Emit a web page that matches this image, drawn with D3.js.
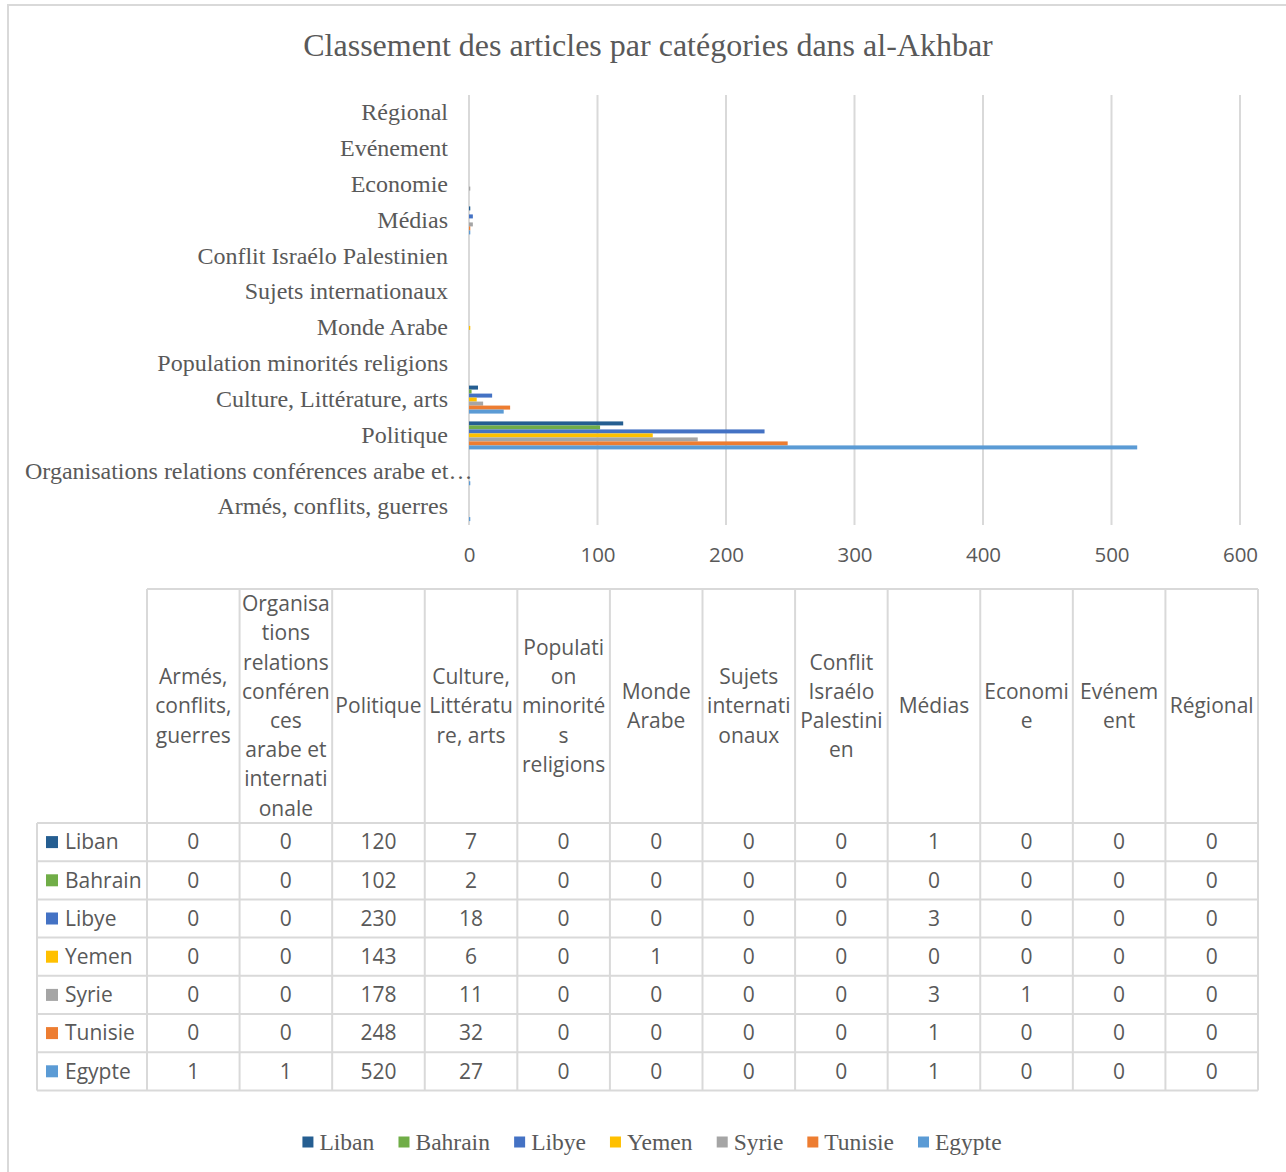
<!DOCTYPE html>
<html>
<head>
<meta charset="utf-8">
<script src="https://cdn.jsdelivr.net/npm/d3@7/dist/d3.min.js"></script>
<style>
  html, body { margin: 0; padding: 0; background: #ffffff; }
  svg { display: block; }
</style>
</head>
<body>
<script>
// Article counts per category and per country (al-Akhbar)
const categories = [
  "Armés, conflits, guerres",
  "Organisations relations conférences arabe et internationale",
  "Politique",
  "Culture, Littérature, arts",
  "Population minorités religions",
  "Monde Arabe",
  "Sujets internationaux",
  "Conflit Israélo Palestinien",
  "Médias",
  "Economie",
  "Evénement",
  "Régional"
];

// Column headers of the data table, broken the way the cells wrap them
const headerLines = [
  ["Armés,", "conflits,", "guerres"],
  ["Organisa", "tions", "relations", "conféren", "ces", "arabe et", "internati", "onale"],
  ["Politique"],
  ["Culture,", "Littératu", "re, arts"],
  ["Populati", "on", "minorité", "s", "religions"],
  ["Monde", "Arabe"],
  ["Sujets", "internati", "onaux"],
  ["Conflit", "Israélo", "Palestini", "en"],
  ["Médias"],
  ["Economi", "e"],
  ["Evénem", "ent"],
  ["Régional"]
];

const seriesNames = ["Liban", "Bahrain", "Libye", "Yemen", "Syrie", "Tunisie", "Egypte"];
const seriesColors = ["#255e91", "#70ad47", "#4472c4", "#ffc000", "#a5a5a5", "#ed7d31", "#5b9bd5"];

const liban   = [0, 0, 120, 7, 0, 0, 0, 0, 1, 0, 0, 0];
const bahrain = [0, 0, 102, 2, 0, 0, 0, 0, 0, 0, 0, 0];
const libye   = [0, 0, 230, 18, 0, 0, 0, 0, 3, 0, 0, 0];
const yemen   = [0, 0, 143, 6, 0, 1, 0, 0, 0, 0, 0, 0];
const syrie   = [0, 0, 178, 11, 0, 0, 0, 0, 3, 1, 0, 0];
const tunisie = [0, 0, 248, 32, 0, 0, 0, 0, 1, 0, 0, 0];
const egypte  = [1, 1, 520, 27, 0, 0, 0, 0, 1, 0, 0, 0];

const xTicks = [0, 100, 200, 300, 400, 500, 600];

const seriesValues = [liban, bahrain, libye, yemen, syrie, tunisie, egypte];
const series = seriesNames.map((name, i) => ({ name, color: seriesColors[i], values: seriesValues[i] }));

const W = 1286, H = 1172;
const SERIF = "'Liberation Serif', 'Times New Roman', serif";
const SANS = "'Open Sans', 'Noto Sans', sans-serif";
const TEXT = "#595959";
const GRID = "#d9d9d9";

const svg = d3.select("body").append("svg")
  .attr("width", W).attr("height", H);

svg.append("rect").attr("width", W).attr("height", H).attr("fill", "#fff");

// chart frame (runs past the right and bottom edge of the page)
svg.append("rect")
  .attr("x", 8).attr("y", 5)
  .attr("width", W + 20).attr("height", H + 20)
  .attr("fill", "none").attr("stroke", GRID).attr("stroke-width", 2);

// title
svg.append("text")
  .attr("x", 648).attr("y", 56)
  .attr("text-anchor", "middle")
  .attr("font-family", SERIF).attr("font-size", 32)
  .attr("fill", TEXT)
  .text("Classement des articles par catégories dans al-Akhbar");

// ---- bar chart ----
const x = d3.scaleLinear().domain([0, 600]).range([469, 1240]);
const y = d3.scaleBand().domain(categories.slice().reverse()).range([95, 525]).padding(0);
const ySub = d3.scaleBand().domain(seriesNames).range([0, y.bandwidth()]).paddingInner(0).paddingOuter(0.98);

const plot = svg.append("g");

// vertical gridlines
plot.append("g")
  .selectAll("line").data(xTicks).join("line")
  .attr("x1", d => x(d)).attr("x2", d => x(d))
  .attr("y1", 95).attr("y2", 525)
  .attr("stroke", GRID).attr("stroke-width", 2);

// x axis labels
const xAxis = d3.axisBottom(x).tickValues(xTicks).tickSize(0).tickPadding(0);
const gx = plot.append("g").attr("transform", "translate(0,562)").call(xAxis);
gx.select(".domain").remove();
gx.selectAll("text")
  .attr("font-family", SANS).attr("font-size", 20.5)
  .attr("fill", TEXT).attr("dy", "0");

// category labels, shortened with an ellipsis when they do not fit
const labelRight = 448, labelLeft = 25;
const gy = plot.append("g");
gy.selectAll("text").data(categories).join("text")
  .attr("y", d => y(d) + y.bandwidth() / 2 - 1)
  .attr("dy", "0.35em")
  .attr("font-family", SERIF).attr("font-size", 24)
  .attr("fill", TEXT)
  .each(function (d) {
    const t = d3.select(this);
    t.text(d);
    const maxW = 480 - labelLeft;
    if (this.getComputedTextLength() > labelRight - labelLeft) {
      let s = d;
      while (s.length > 1) {
        s = s.slice(0, -1);
        t.text(s.trimEnd() + "…");
        if (this.getComputedTextLength() <= maxW) break;
      }
      t.attr("x", labelLeft).attr("text-anchor", "start");
    } else {
      t.attr("x", labelRight).attr("text-anchor", "end");
    }
  });

// bars
const groups = plot.append("g").selectAll("g").data(series).join("g")
  .attr("fill", d => d.color);
groups.selectAll("rect")
  .data(s => s.values.map((v, i) => ({ name: s.name, cat: categories[i], v })).filter(d => d.v > 0))
  .join("rect")
  .attr("x", x(0))
  .attr("y", d => y(d.cat) + ySub(d.name))
  .attr("height", ySub.bandwidth())
  .attr("width", d => x(d.v) - x(0));

// ---- data table ----
const colX = d3.scaleBand().domain(categories).range([147, 1258]);
const tableLeft = 37, headTop = 589, headBottom = 823, rowH = 38.2;
const rowY = d3.scaleBand().domain(seriesNames).range([headBottom, headBottom + rowH * seriesNames.length]);
const tableBottom = headBottom + rowH * seriesNames.length;
const TABLE_FS = 21;

const table = svg.append("g");
const lineAttrs = sel => sel.attr("stroke", GRID).attr("stroke-width", 2);

// horizontal rules
table.append("line").attr("x1", 147).attr("x2", 1258).attr("y1", headTop).attr("y2", headTop).call(lineAttrs);
table.append("g").selectAll("line").data(seriesNames).join("line")
  .attr("x1", tableLeft).attr("x2", 1258)
  .attr("y1", d => rowY(d)).attr("y2", d => rowY(d)).call(lineAttrs);
table.append("line").attr("x1", tableLeft).attr("x2", 1258).attr("y1", tableBottom).attr("y2", tableBottom).call(lineAttrs);

// vertical rules
table.append("line").attr("x1", tableLeft).attr("x2", tableLeft).attr("y1", headBottom).attr("y2", tableBottom).call(lineAttrs);
table.append("g").selectAll("line").data(categories).join("line")
  .attr("x1", d => colX(d)).attr("x2", d => colX(d))
  .attr("y1", headTop).attr("y2", tableBottom).call(lineAttrs);
table.append("line").attr("x1", 1258).attr("x2", 1258).attr("y1", headTop).attr("y2", tableBottom).call(lineAttrs);

// header text
const lineH = 29.2;
const headMid = (headTop + headBottom) / 2;
table.append("g").selectAll("text").data(categories).join("text")
  .attr("font-family", SANS).attr("font-size", TABLE_FS).attr("fill", TEXT)
  .attr("text-anchor", "middle")
  .each(function (d, i) {
    const lines = headerLines[i];
    const cx = colX(d) + colX.bandwidth() / 2;
    d3.select(this).selectAll("tspan").data(lines).join("tspan")
      .attr("x", cx)
      .attr("y", (l, j) => headMid + (j - (lines.length - 1) / 2) * lineH)
      .attr("dy", "0.35em")
      .text(l => l);
  });

// row legend keys and names
const rows = table.append("g").selectAll("g").data(series).join("g")
  .attr("transform", d => `translate(0,${rowY(d.name) + rowY.bandwidth() / 2})`);
rows.append("rect").attr("x", 46).attr("y", -6).attr("width", 12).attr("height", 12).attr("fill", d => d.color);
rows.append("text").attr("x", 65).attr("dy", "0.35em")
  .attr("font-family", SANS).attr("font-size", TABLE_FS).attr("fill", TEXT)
  .text(d => d.name);
rows.selectAll("text.v").data(d => d.values.map((v, i) => ({ v, cat: categories[i] }))).join("text")
  .attr("class", "v")
  .attr("x", d => colX(d.cat) + colX.bandwidth() / 2)
  .attr("dy", "0.35em").attr("text-anchor", "middle")
  .attr("font-family", SANS).attr("font-size", TABLE_FS).attr("fill", TEXT)
  .text(d => d.v);

// ---- legend ----
const legend = svg.append("g").attr("transform", "translate(0,1142)");
const items = legend.selectAll("g").data(series).join("g");
items.append("rect").attr("y", -5.5).attr("width", 11).attr("height", 11).attr("fill", d => d.color);
items.append("text").attr("x", 17).attr("dy", "0.35em")
  .attr("font-family", SERIF).attr("font-size", 23.5).attr("fill", TEXT)
  .text(d => d.name);
// lay the entries out in a centred row
const gap = 24;
const widths = [];
items.each(function () { widths.push(this.getBBox().width); });
const total = d3.sum(widths) + gap * (widths.length - 1);
let cursor = 652 - total / 2;
items.attr("transform", (d, i) => { const t = `translate(${cursor},0)`; cursor += widths[i] + gap; return t; });
</script>
</body>
</html>
